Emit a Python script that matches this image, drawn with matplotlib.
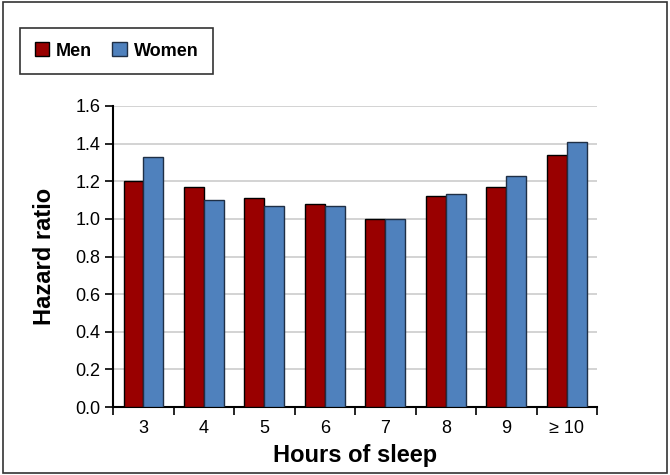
import numpy as np
import matplotlib.pyplot as plt
from matplotlib.patches import Rectangle

# dados
horas = ["3", "4", "5", "6", "7", "8", "9", "\u2265 10"]
homens = [1.20, 1.17, 1.11, 1.08, 1.00, 1.12, 1.17, 1.34]
mulheres = [1.33, 1.10, 1.07, 1.07, 1.00, 1.13, 1.23, 1.41]

plt.rcParams['font.family'] = ['Liberation Sans', 'DejaVu Sans']

fig = plt.figure(figsize=(6.7, 4.75), dpi=100)
ax = fig.add_axes([0.169, 0.143, 0.722, 0.634])

x = np.arange(len(horas))
w = 0.33
ax.bar(x - w / 2, homens, w, color="#990000", edgecolor="black", linewidth=1, label="Men", zorder=3)
ax.bar(x + w / 2, mulheres, w, color="#4f81bd", edgecolor="#1f2f45", linewidth=1, label="Women", zorder=3)

ax.set_xlim(-0.5, len(horas) - 0.5)
ax.set_ylim(0, 1.6)
ax.set_yticks(np.arange(0, 1.61, 0.2))
ax.set_yticklabels([f"{v:.1f}" for v in np.arange(0, 1.61, 0.2)], fontsize=13)
ax.yaxis.grid(True, color="#cccccc", linewidth=1.2, zorder=0)

# ticks do eixo x nos limites dos grupos
ax.set_xticks(np.arange(-0.5, len(horas), 1))
ax.set_xticklabels([])
ax.set_xticks(x, minor=True)
ax.set_xticklabels(horas, minor=True, fontsize=13)
ax.tick_params(axis="x", which="minor", length=0, pad=9)
ax.tick_params(axis="x", which="major", direction="out", length=6, width=1.2)
ax.tick_params(axis="y", direction="out", length=6, width=1.2, pad=3)

for s in ["top", "right"]:
    ax.spines[s].set_visible(False)
for s in ["left", "bottom"]:
    ax.spines[s].set_linewidth(1.5)

ax.set_xlabel("Hours of sleep", fontsize=17, fontweight="bold", labelpad=5)
ax.set_ylabel("Hazard ratio", fontsize=17, fontweight="bold", labelpad=14)

handles, labels = ax.get_legend_handles_labels()
leg = fig.legend(handles, labels, loc="upper left", bbox_to_anchor=(0.030, 0.941), ncol=2,
                 frameon=True, fancybox=False, edgecolor="black",
                 prop={"weight": "bold", "size": 13}, handlelength=0.8, handleheight=0.8,
                 columnspacing=1.1, borderpad=0.8, handletextpad=0.4, borderaxespad=0)
leg.get_frame().set_linewidth(1.2)

fig.patches.append(Rectangle((0.005, 0.005), 0.99, 0.99, transform=fig.transFigure,
                             fill=False, edgecolor="#333333", linewidth=1.2))

fig.savefig("out.png", dpi=100)
